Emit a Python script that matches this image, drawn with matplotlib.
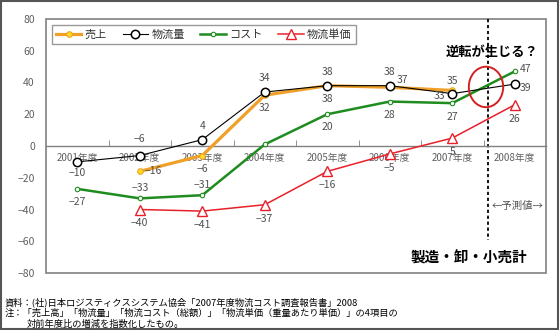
import matplotlib
matplotlib.use("Agg")
import matplotlib.pyplot as plt
from matplotlib.patches import Rectangle, Ellipse
import numpy as np

plt.rcParams['font.family'] = ['Noto Sans CJK JP', 'DejaVu Sans']

years = ["2001年度", "2002年度", "2003年度", "2004年度", "2005年度", "2006年度", "2007年度", "2008年度"]
uriage = [None, -16, -6, 32, 38, 37, 35, None]          # 売上
butsuryuryo = [-10, -6, 4, 34, 38, 38, 33, 39]          # 物流量
cost = [-27, -33, -31, 1, 20, 28, 27, 47]               # コスト
tanka = [None, -40, -41, -37, -16, -5, 5, 26]           # 物流単価
show_cost_label = [True, True, True, False, True, True, True, True]

# label offsets (points) – style only
off_uriage = [None, (10, 0), (0, -9.5), (0, -9.5), (0, -9.5), (9, 5), (0, 7), None]
off_ryo = [(0, -8), (0, 12), (0, 10), (0, 10), (0, 10), (0, 10), (-9, -2), (8, -3)]
off_cost = [(0, -9.5), (0, 7.5), (0, 7), (0, 0), (0, -9.5), (0, -9.5), (0, -10), (8, 1.5)]
off_tanka = [None, (0, -10), (0, -10), (0, -10), (0, -10), (0, -10), (0, -10), (0, -10)]

fig = plt.figure(figsize=(5.6, 3.3), dpi=100)
ax = fig.add_axes([46/560, 1-273/330, 500/560, 254/330])
x = np.arange(len(years))

def arr(v):
    return np.array([np.nan if a is None else a for a in v], dtype=float)

c_or, c_bk, c_gr, c_rd = '#F0A028', '#000000', '#1E8C1E', '#E8202A'
ax.plot(x, arr(uriage), color=c_or, lw=2.3, marker='o', ms=4, mfc='#FFE020', mec=c_or, mew=0.8, label='売上', zorder=3)
ax.plot(x, arr(butsuryuryo), color=c_bk, lw=0.8, marker='o', ms=6, mfc='white', mec=c_bk, mew=1.1, label='物流量', zorder=4)
ax.plot(x, arr(cost), color=c_gr, lw=1.8, marker='o', ms=3.2, mfc='white', mec=c_gr, mew=0.8, label='コスト', zorder=3)
ax.plot(x, arr(tanka), color=c_rd, lw=1.1, marker='^', ms=6.5, mfc='white', mec=c_rd, mew=1.0, label='物流単価', zorder=3)

lab_col = '#505050'
def labels(vals, offs, show=None):
    for i, (v, o) in enumerate(zip(vals, offs)):
        if v is None or o is None:
            continue
        if show is not None and not show[i]:
            continue
        ax.annotate(f"{v}".replace('-', '−'), (x[i], v), xytext=o, textcoords='offset points',
                    ha='center', va='center', fontsize=7.5, color=lab_col, zorder=6)

labels(uriage, off_uriage)
labels(butsuryuryo, off_ryo)
labels(cost, off_cost, show_cost_label)
labels(tanka, off_tanka)

ax.set_xlim(-0.5, len(years) - 0.5)
ax.set_ylim(-80, 80)
ax.set_yticks(np.arange(-80, 81, 20))
ax.set_yticklabels([str(v).replace('-', '−') for v in range(-80, 81, 20)])
ax.tick_params(axis='y', length=0, pad=8, labelsize=7.5, labelcolor='#606060')

for s in ['left', 'right', 'top']:
    ax.spines[s].set_visible(False)
ax.spines['bottom'].set_position(('data', 0))
ax.spines['bottom'].set_color('#808080')
ax.spines['bottom'].set_linewidth(1.0)
ax.set_xticks(x)
ax.set_xticklabels(years)
ax.tick_params(axis='x', which='major', length=0, pad=5, labelsize=7, labelcolor='#606060')
ax.set_xticks(np.arange(0.5, len(years) - 0.5, 1), minor=True)
ax.tick_params(axis='x', which='minor', direction='in', length=4, color='#808080')
for t in ax.get_xticklabels():
    t.set_zorder(5)

ax.add_patch(Rectangle((0, 0), 1, 1, transform=ax.transAxes, fill=False, edgecolor='#808080', lw=1.2, clip_on=False))

leg = ax.legend(loc='upper left', bbox_to_anchor=(0.012, 0.976), ncol=4, frameon=True, fancybox=False,
                edgecolor='#808080', fontsize=8, handlelength=2.3, handletextpad=0.3, columnspacing=1.4,
                borderaxespad=0, borderpad=0.35)
leg.get_frame().set_linewidth(1.0)
for t in leg.get_texts():
    t.set_color('#303030')

# forecast divider and annotations
ax.plot([6.57, 6.57], [80, -59], color='black', lw=1.3, ls=(0, (1.8, 1.5)), zorder=2)
ax.add_patch(Ellipse((6.54, 37.2), 0.55, 25.5, fill=False, edgecolor='#D42020', lw=1.4, zorder=5))
ax.text(6.64, 59, '逆転が生じる？', ha='center', va='center', fontsize=9.5, fontweight='bold', color='black')
ax.text(7.05, -38, '←予測値→', ha='center', va='center', fontsize=7.5, color='#505050')
ax.text(6.27, -70, '製造・卸・小売計', ha='center', va='center', fontsize=10.5, fontweight='bold', color='black')

fs = 6.7
fig.text(5/560, 1-302/330, '資料：(社)日本ロジスティクスシステム協会「2007年度物流コスト調査報告書」2008',
         fontsize=fs, va='center', ha='left', color='black')
fig.text(5/560, 1-313.5/330, '注：「売上高」「物流量」「物流コスト（総額）」「物流単価（重量あたり単価）」の4項目の',
         fontsize=fs, va='center', ha='left', color='black')
fig.text(27/560, 1-324/330, '対前年度比の増減を指数化したもの。',
         fontsize=fs, va='center', ha='left', color='black')

fig.add_artist(Rectangle((0.002, 0.003), 0.995, 0.994, transform=fig.transFigure, fill=False,
                         edgecolor='#555555', lw=1.5))

fig.savefig('out.png', dpi=100)
